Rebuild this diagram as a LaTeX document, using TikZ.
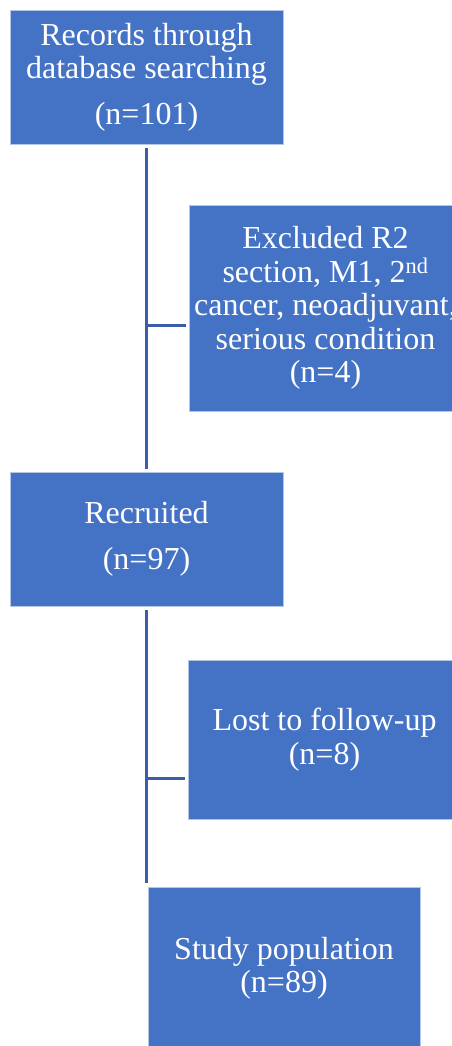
\documentclass[tikz,border=0pt]{standalone}
\usepackage{fontspec}
\setmainfont{Liberation Serif}
\usetikzlibrary{positioning}
\definecolor{boxblue}{HTML}{4472C4}
\definecolor{linkblue}{HTML}{3A5FA8}
\definecolor{edgeblue}{HTML}{B4C7E7}

\begin{document}
\begin{tikzpicture}[
  x=1pt,y=-1pt,
  font=\fontsize{32}{33.5}\selectfont,
  block/.style={draw=edgeblue,line width=0.6pt,fill=boxblue,text=white,align=center,inner sep=0pt,minimum width=273pt,minimum height=134pt},
  link/.style={draw=linkblue,line width=3pt}
]
\useasboundingbox (0,0) rectangle (452,1046);
\clip (0,0) rectangle (452,1046);

\node[block] (records) at (146.5,77) {Records through\\database searching\\[12pt](n=101)};
\node[block,minimum height=206pt] (excluded) at (325.5,308) {Excluded R2\\section, M1, 2\textsuperscript{nd}\\cancer, neoadjuvant,\\serious condition\\(n=4)};
\node[block] (recruited) at (146.5,539) {Recruited\\[12pt](n=97)};
\node[block,minimum height=159pt] (lost) at (324.5,739.5) {Lost to follow-up\\(n=8)};
\node[block,minimum width=272pt,minimum height=163pt] (study) at (284,968.5) {Study population\\(n=89)};

\coordinate (fork1) at (147,325);
\coordinate (fork2) at (147,778);

\draw[link,shorten <=4pt,shorten >=3pt] (records.south) -- (recruited.north);
\draw[link,shorten >=3pt] (fork1) -- (fork1 -| excluded.west);
\draw[link,shorten <=4pt,shorten >=4pt] (recruited.south) -- (recruited.south |- study.north);
\draw[link,shorten >=3pt] (fork2) -- (fork2 -| lost.west);
\end{tikzpicture}
\end{document}
